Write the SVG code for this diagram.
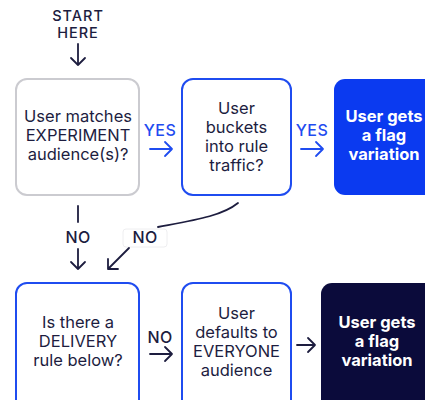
<svg xmlns="http://www.w3.org/2000/svg" width="425" height="400" viewBox="0 0 425 400">
  <defs>
    <style>
      .t { font-family: Inter, "Liberation Sans", sans-serif; font-size: 16.5px; fill: #1d1d3f; text-anchor: middle; }
      .tb { font-family: Inter, "Liberation Sans", sans-serif; font-size: 16.5px; font-weight: 700; fill: #ffffff; text-anchor: middle; }
      .lbl { font-family: Inter, "Liberation Sans", sans-serif; font-size: 16px; font-weight: 500; text-anchor: middle; letter-spacing: 0.4px; }
      .start { font-family: Inter, "Liberation Sans", sans-serif; font-size: 14.5px; font-weight: 500; text-anchor: middle; letter-spacing: 1px; fill: #1d1d3f; }
      .box { fill: #ffffff; stroke-width: 2; }
      .edge { fill: none; stroke-width: 1.8; stroke-linecap: round; stroke-linejoin: round; }
    </style>
  </defs>
  <rect width="425" height="400" fill="#ffffff"/>

  <!-- Top row -->
  <g id="start">
    <text class="start" x="78" y="21">START</text>
    <text class="start" x="78" y="38">HERE</text>
  </g>
  <g id="experiment">
    <rect class="box" x="16" y="79" width="123" height="116" rx="11" stroke="#cbcbd0"/>
    <text class="t" x="78" y="122">User matches</text>
    <text class="t" x="78" y="141">EXPERIMENT</text>
    <text class="t" x="78" y="160">audience(s)?</text>
  </g>
  <g id="bucket">
    <rect class="box" x="182" y="79" width="109" height="116" rx="11" stroke="#1f4cf0"/>
    <text class="t" x="236.5" y="114">User</text>
    <text class="t" x="236.5" y="133">buckets</text>
    <text class="t" x="236.5" y="152">into rule</text>
    <text class="t" x="236.5" y="171">traffic?</text>
  </g>
  <g id="variation-experiment">
    <rect x="334" y="79" width="110" height="116" rx="11" fill="#0b3af0"/>
    <text class="tb" x="384" y="122">User gets</text>
    <text class="tb" x="384" y="141">a flag</text>
    <text class="tb" x="384" y="160">variation</text>
  </g>

  <!-- Bottom row -->
  <g id="delivery">
    <rect class="box" x="16" y="283" width="123" height="130" rx="11" stroke="#1f4cf0"/>
    <text class="t" x="78" y="328">Is there a</text>
    <text class="t" x="78" y="347">DELIVERY</text>
    <text class="t" x="78" y="366">rule below?</text>
  </g>
  <g id="everyone">
    <rect class="box" x="182" y="283" width="109" height="130" rx="11" stroke="#1f4cf0"/>
    <text class="t" x="236.5" y="319">User</text>
    <text class="t" x="236.5" y="338">defaults to</text>
    <text class="t" x="236.5" y="357">EVERYONE</text>
    <text class="t" x="236.5" y="376">audience</text>
  </g>
  <g id="variation-default">
    <rect x="321" y="283" width="120" height="130" rx="11" fill="#0b0b3b"/>
    <text class="tb" x="377" y="328">User gets</text>
    <text class="tb" x="377" y="347">a flag</text>
    <text class="tb" x="377" y="366">variation</text>
  </g>

  <!-- Connectors -->
  <g id="connectors">
    <!-- start -> experiment -->
    <path class="edge" stroke="#1d1d3f" d="M78 44 V65 M71 58 L78 65 L85 58"/>
    <!-- experiment -> bucket (YES) -->
    <text class="lbl" x="160" y="136" fill="#1f4cf0">YES</text>
    <path class="edge" stroke="#1f4cf0" d="M150 149 H172 M165 142 L172 149 L165 156"/>
    <!-- bucket -> variation (YES) -->
    <text class="lbl" x="312" y="136" fill="#1f4cf0">YES</text>
    <path class="edge" stroke="#1f4cf0" d="M301 149 H323 M316 142 L323 149 L316 156"/>
    <!-- experiment -> delivery (NO) -->
    <path class="edge" stroke="#1d1d3f" d="M78 206 V222"/>
    <text class="lbl" x="78" y="243" fill="#1d1d3f">NO</text>
    <path class="edge" stroke="#1d1d3f" d="M78 249 V269 M71 262 L78 269 L85 262"/>
    <!-- bucket -> delivery (NO) -->
    <path class="edge" stroke="#1d1d3f" d="M238 203 C222 216 195 220 158 227"/>
    <rect x="123" y="229" width="44" height="18" rx="3" fill="#ffffff" stroke="#eeeef0" stroke-width="1"/>
    <text class="lbl" x="145" y="243" fill="#1d1d3f">NO</text>
    <path class="edge" stroke="#1d1d3f" d="M129 248 L108 269 M108 259 L108 269 L118 269"/>
    <!-- delivery -> everyone (NO) -->
    <text class="lbl" x="160" y="343" fill="#1d1d3f">NO</text>
    <path class="edge" stroke="#1d1d3f" d="M150 354 H172 M165 347 L172 354 L165 361"/>
    <!-- everyone -> variation -->
    <path class="edge" stroke="#1d1d3f" d="M297 345 H315 M308 338 L315 345 L308 352"/>
  </g>
</svg>
